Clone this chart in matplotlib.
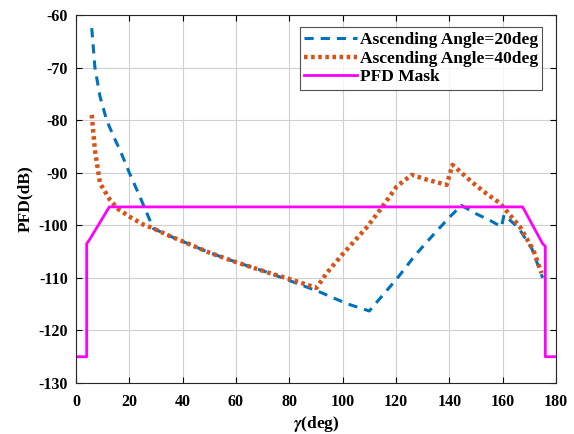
import numpy as np
import matplotlib.pyplot as plt

# data
asc20_x = [5.9, 7.1, 9.0, 11.5, 14.0, 16.5, 20.0, 24.0, 29.0, 35.0, 40.2, 50.0, 60.0, 72.7, 80.0, 91.5,
           101.5, 110.0, 115.0, 120.3, 127.0, 134.0, 140.0, 144.5, 150.0, 155.0, 159.6, 160.5, 166.0,
           171.0, 175.0]
asc20_y = [-62.5, -70.0, -75.5, -80.0, -83.0, -85.7, -90.0, -94.6, -100.6, -102.0, -103.1, -105.2, -107.0,
           -109.1, -110.5, -112.7, -114.9, -116.3, -113.3, -110.2, -105.8, -101.8, -98.5, -96.2, -97.8,
           -99.0, -100.3, -98.0, -100.5, -104.5, -110.0]

asc40_x = [5.9, 7.1, 9.0, 12.8, 16.0, 20.2, 25.0, 29.0, 35.0, 40.2, 50.0, 60.0, 72.7, 80.0, 90.2, 94.0,
           100.0, 109.0, 114.0, 120.3, 125.9, 131.5, 139.0, 141.2, 145.0, 149.0, 154.0, 159.0, 166.5,
           171.5, 174.6]
asc40_y = [-79.0, -85.7, -92.0, -95.2, -97.0, -98.4, -99.8, -100.6, -102.0, -103.1, -105.2, -107.0, -109.1,
           -110.2, -111.9, -109.1, -105.5, -100.4, -97.1, -92.6, -90.4, -91.3, -92.3, -88.5, -90.2, -92.0,
           -94.0, -95.8, -100.3, -104.7, -109.1]

mask_x = [0.5, 4.0, 4.0, 5.0, 12.5, 167.5, 175.0, 176.0, 176.0, 179.5]
mask_y = [-125.0, -125.0, -103.5, -102.8, -96.5, -96.5, -103.5, -104.0, -125.0, -125.0]

plt.rcParams['font.family'] = ['Liberation Serif', 'DejaVu Serif']
plt.rcParams['font.weight'] = 'bold'
plt.rcParams['axes.unicode_minus'] = False
plt.rcParams['mathtext.fontset'] = 'stix'

fig = plt.figure(figsize=(5.74, 4.34), dpi=100)
ax = fig.add_axes([0.1324, 0.1175, 0.8362, 0.8479])

ax.plot(asc20_x, asc20_y, color='#0072BD', linestyle=(0, (3.0, 2.3)), linewidth=2.2,
        label='Ascending Angle=20deg')
ax.plot(asc40_x, asc40_y, color='#D95319', linestyle=(0, (0.8, 0.8)), linewidth=3.2,
        label='Ascending Angle=40deg')
ax.plot(mask_x, mask_y, color='#FF00FF', linewidth=2.0, label='PFD Mask')

ax.set_xlim(0, 180)
ax.set_ylim(-130, -60)
ax.set_xticks(np.arange(0, 181, 20))
ax.set_yticks(np.arange(-130, -59, 10))
ax.grid(True, color='#d0d0d0', linewidth=0.8)
ax.tick_params(direction='in', top=True, right=True, labelsize=11.5, length=4, width=0.8)
ax.tick_params(axis='x', pad=8)
ax.tick_params(axis='y', pad=6)
for s in ax.spines.values():
    s.set_color('#262626')
    s.set_linewidth(0.8)

ax.set_xlabel(r'$\gamma$(deg)', fontsize=12.5, fontweight='bold', labelpad=3)
ax.set_ylabel('PFD(dB)', fontsize=12.5, fontweight='bold', labelpad=4)

leg = ax.legend(loc='upper right', fontsize=12.5, frameon=True, fancybox=False, edgecolor='#262626',
                handlelength=3.0, handletextpad=0.2, borderpad=0.25, labelspacing=0.15,
                bbox_to_anchor=(0.99, 0.99))
leg.get_frame().set_linewidth(0.8)

fig.savefig('out.png', dpi=100)
